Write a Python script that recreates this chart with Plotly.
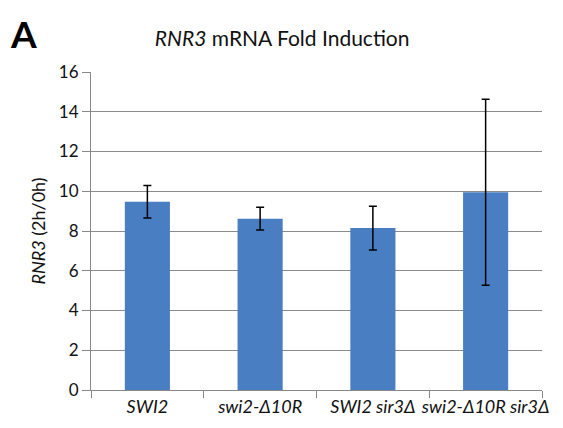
import plotly.graph_objects as go

categories = ["<i>SWI2</i>", "<i>swi2-Δ10R</i>", "<i>SWI2 sir3Δ</i>", "<i>swi2-Δ10R sir3Δ</i>"]
fold_induction = [9.47, 8.62, 8.15, 9.95]
error = [0.82, 0.57, 1.1, 4.68]
y_ticks = [0, 2, 4, 6, 8, 10, 12, 14, 16]

FONT = "Lato, Open Sans, sans-serif"

fig = go.Figure()
fig.add_trace(go.Bar(
    x=categories, y=fold_induction,
    marker=dict(color="#4a7ec2", line=dict(width=0)),
    error_y=dict(type="data", array=error, visible=True, color="black", thickness=1.5, width=4),
    width=0.4,
))

# page body has an 8px margin, so the figure is sized/offset to compensate
fig.update_layout(
    width=555, height=420,
    margin=dict(l=83, r=21, t=64, b=38, autoexpand=False),
    paper_bgcolor="white", plot_bgcolor="white",
    showlegend=False,
    font=dict(family=FONT, color="#222222"),
    title=dict(text="<i>RNR3</i> mRNA Fold Induction", x=0.494, xanchor="center",
               y=0.926, yanchor="middle", font=dict(size=21, family=FONT, color="#111111")),
    annotations=[dict(text="<b>A</b>", x=-0.183, y=1.12, xref="paper", yref="paper",
                      showarrow=False, font=dict(size=37, family=FONT, color="black"),
                      xanchor="left", yanchor="middle")],
)

fig.update_xaxes(
    type="category", tickson="boundaries", ticks="outside", ticklen=7, tickangle=0,
    automargin=False,
    tickcolor="#888888", showline=True, linecolor="#888888", linewidth=1,
    tickfont=dict(size=18, family=FONT, color="#111111"), showgrid=False,
)
fig.update_yaxes(
    range=[0, 16], tickvals=y_ticks, ticks="outside", ticklen=8, tickcolor="#888888",
    automargin=False,
    showline=True, linecolor="#888888", linewidth=1,
    showgrid=True, gridcolor="#8c8c8c", gridwidth=1, zeroline=False,
    tickfont=dict(size=17, family=FONT, color="#111111"),
    title=dict(text="<i>RNR3</i> (2h/0h)", font=dict(size=18, family=FONT, color="#111111"), standoff=8),
)

fig.write_html("out.html")
